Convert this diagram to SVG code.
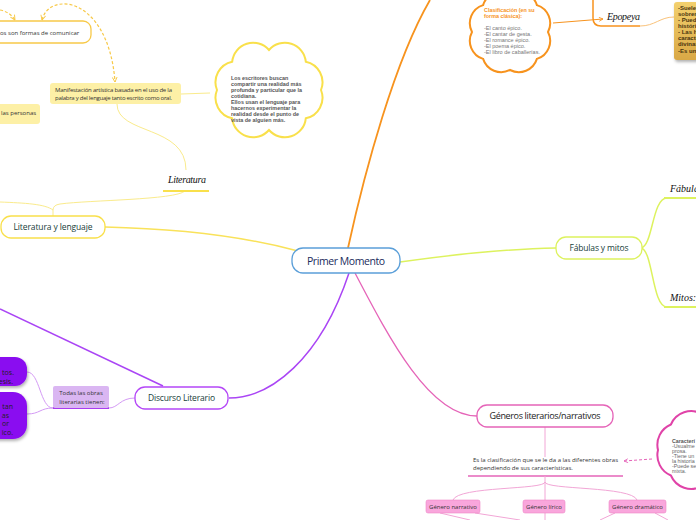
<svg xmlns="http://www.w3.org/2000/svg" width="696" height="520" viewBox="0 0 696 520">
<style>
.node{font-family:"Open Sans","Liberation Sans",sans-serif;}
.small{font-family:"Open Sans","Liberation Sans",sans-serif;font-size:6px;fill:#333;}
.cl{font-family:"Liberation Sans",Arial,sans-serif;font-weight:bold;font-size:5.4px;fill:#555;}
.hand{font-family:"Liberation Serif","DejaVu Serif",serif;font-style:italic;font-size:10px;fill:#111;}
.y{stroke:#f9e25a;fill:none;stroke-width:1.5;}
.yl{stroke:#faeb8c;fill:none;stroke-width:1;}
.o{stroke:#f7931e;fill:none;stroke-width:1.8;}
.g{stroke:#ddf25e;fill:none;stroke-width:1.5;}
.p{stroke:#aa45f5;fill:none;stroke-width:1.5;}
.pl{stroke:#d49af5;fill:none;stroke-width:1;}
.k{stroke:#e564b8;fill:none;stroke-width:1.3;}
.kl{stroke:#f2a6d6;fill:none;stroke-width:1;}
</style>
<defs>
<marker id="ay" viewBox="0 0 10 10" refX="9" refY="5" markerWidth="5" markerHeight="5" orient="auto-start-reverse"><path d="M1,1 L9,5 L1,9" fill="none" stroke="#f7c948" stroke-width="1.6"/></marker>
<marker id="ao" viewBox="0 0 10 10" refX="9" refY="5" markerWidth="5" markerHeight="5" orient="auto"><path d="M1,1 L9,5 L1,9" fill="none" stroke="#f7931e" stroke-width="1.6"/></marker>
<marker id="ak" viewBox="0 0 10 10" refX="9" refY="5" markerWidth="5" markerHeight="5" orient="auto"><path d="M1,1 L9,5 L1,9" fill="none" stroke="#e564b8" stroke-width="1.6"/></marker>
<linearGradient id="gold" x1="0" y1="0" x2="0" y2="1"><stop offset="0" stop-color="#f3d06e"/><stop offset="1" stop-color="#d9a845"/></linearGradient>
<filter id="sh" x="-30%" y="-30%" width="160%" height="160%"><feDropShadow dx="1" dy="2" stdDeviation="1.5" flood-color="#000" flood-opacity="0.3"/></filter>
</defs>

<g id="connectors">
  <path class="y" d="M105,227 C190,229 250,238 298,251"/>
  <path class="yl" d="M53,216 V210 Q53,205 60,204 C90,200 175,200 185,191"/>
  <path class="yl" d="M0,202 C25,203 45,204 53,210"/>
  <path class="yl" d="M117,104 C117,135 186,125 186,170"/>
  <path class="yl" d="M181,94 L210,93"/>
  <path d="M0,10 Q10,12 15,20" fill="none" stroke="#f7c948" stroke-width="1.2" stroke-dasharray="3,2" marker-end="url(#ay)"/>
  <path d="M42,20 C46,5 60,2 72,5 C95,12 112,40 115,82" fill="none" stroke="#f7c948" stroke-width="1.2" stroke-dasharray="3,2" marker-start="url(#ay)" marker-end="url(#ay)"/>
  <path class="o" d="M348,248 C365,170 395,60 430,0"/>
  <path d="M553,23 L603,19" fill="none" stroke="#f7931e" stroke-width="1" marker-end="url(#ao)"/>
  <path d="M593,0 V18 Q593,26 601,26 H640" fill="none" stroke="#f7931e" stroke-width="1.5"/>
  <path d="M640,26 C655,26 660,17 674,17" fill="none" stroke="#f9c27a" stroke-width="1"/>
  <path class="g" d="M400,262 C450,255 500,249 556,248"/>
  <path class="g" stroke-width="1" d="M641,248 C653,246 652,198 667,198"/>
  <path class="g" stroke-width="1" d="M641,248 C653,250 652,307 667,307"/>
  <path d="M664,198 H696 M664,307 H696" stroke="#ddf25e" stroke-width="2" fill="none"/>
  <path class="p" d="M349,273 C320,360 270,398 229,398"/>
  <path class="p" d="M0,309 L163,386"/>
  <path class="pl" d="M135,398 C120,398 118,408 109,408"/>
  <path class="pl" d="M53,408 C40,408 40,372 27,372"/>
  <path class="pl" d="M53,408 C40,408 40,414 27,414"/>
  <path d="M53,408 H109" stroke="#a93cf0" stroke-width="2" fill="none"/>
  <path class="k" d="M355,273 C390,340 430,416 477,416"/>
  <path class="kl" d="M545,427 V457"/>
  <path d="M468,476 H623" stroke="#e564b8" stroke-width="1.5" fill="none"/>
  <path class="kl" d="M545,476 V500"/>
  <path class="kl" d="M545,482 C545,490 458,486 453,500"/>
  <path class="kl" d="M545,482 C545,490 632,486 637,500"/>
  <path class="kl" d="M440,513 L470,520 M475,513 L520,520 M545,513 V520 M615,513 L600,520 M655,513 L668,520"/>
  <path d="M652,459 L624,461" fill="none" stroke="#e564b8" stroke-width="1" stroke-dasharray="3,2" marker-end="url(#ak)"/>
</g>

<g id="primer-momento">
  <rect x="292" y="248" width="108" height="25" rx="11" fill="#fff" stroke="#5b9fd9" stroke-width="1.3"/>
  <text class="node" x="346" y="264.5" font-size="10.5" fill="#1a2b5c" text-anchor="middle" textLength="78">Primer Momento</text>
</g>

<g id="literatura-y-lenguaje">
  <rect x="1" y="216" width="104" height="22" rx="10" fill="#fff" stroke="#f9e04b" stroke-width="1.3"/>
  <text class="node" x="53" y="230" font-size="8.5" fill="#17403a" text-anchor="middle" textLength="79">Literatura y lenguaje</text>
</g>

<g id="literatura">
  <text class="hand" x="168" y="183" textLength="38">Literatura</text>
  <path d="M163,191 H209" stroke="#f9e04b" stroke-width="2"/>
</g>

<g id="manifestacion">
  <rect x="50" y="83" width="131" height="21" rx="3" fill="#fdf0a6"/>
  <text class="small" x="55" y="92" textLength="117">Manifestación artística basada en el uso de la</text>
  <text class="small" x="55" y="100" textLength="117">palabra y del lenguaje tanto escrito como oral.</text>
</g>

<g id="cloud-escritores">
  <path d="M269,50 A21,21 0 0 1 305.8,61.7 A21,21 0 0 1 321,90 A21,21 0 0 1 305.8,118.3 A21,21 0 0 1 269,130 A21,21 0 0 1 232.2,118.3 A21,21 0 0 1 217,90 A21,21 0 0 1 232.2,61.7 A21,21 0 0 1 269,50 Z" fill="#fff" stroke="#f9e04b" stroke-width="2"/>
  <text class="cl" x="231" y="80">Los escritores buscan</text>
  <text class="cl" x="231" y="86">compartir una realidad más</text>
  <text class="cl" x="231" y="92">profunda y particular que la</text>
  <text class="cl" x="231" y="98">cotidiana.</text>
  <text class="cl" x="231" y="104">Ellos usan el lenguaje para</text>
  <text class="cl" x="231" y="110">hacernos experimentar la</text>
  <text class="cl" x="231" y="116">realidad desde el punto de</text>
  <text class="cl" x="231" y="122">vista de alguien más.</text>
</g>

<g id="comunicar">
  <rect x="-20" y="21" width="111" height="22" rx="8" fill="#fff" stroke="#f7c948" stroke-width="1.3"/>
  <text class="small" x="0" y="35" font-size="6.5">os son formas de comunicar</text>
</g>

<g id="personas">
  <rect x="-10" y="104" width="50" height="20" rx="3" fill="#fdf0a6"/>
  <text class="small" x="1" y="115">las personas</text>
</g>

<g id="cloud-clasificacion">
  <path d="M510,-6 A19,19 0 0 1 536.9,5.1 A19,19 0 0 1 548,32 A19,19 0 0 1 536.9,58.9 A19,19 0 0 1 510,70 A19,19 0 0 1 483.1,58.9 A19,19 0 0 1 472,32 A19,19 0 0 1 483.1,5.1 A19,19 0 0 1 510,-6 Z" fill="#fff" stroke="#f7931e" stroke-width="2"/>
  <text class="cl" x="484" y="12" font-size="5.5" style="fill:#f7931e">Clasificación (en su</text>
  <text class="cl" x="484" y="18" font-size="5.5" style="fill:#f7931e">forma clásica):</text>
  <g font-family="Liberation Sans,Arial,sans-serif" font-size="5.5" fill="#777">
    <text x="484" y="30">-El canto épico.</text>
    <text x="484" y="36">-El cantar de gesta.</text>
    <text x="484" y="42">-El romance épico.</text>
    <text x="484" y="48">-El poema épico.</text>
    <text x="484" y="54">-El libro de caballerías.</text>
  </g>
</g>

<g id="epopeya">
  <text class="hand" x="607" y="20" textLength="33">Epopeya</text>
</g>

<g id="epopeya-notas">
  <rect x="674" y="2" width="40" height="58" rx="3" fill="url(#gold)" filter="url(#sh)"/>
  <g font-family="Liberation Sans,Arial,sans-serif" font-size="6" font-weight="bold" fill="#4a3510">
    <text x="678" y="10">-Suele</text>
    <text x="678" y="16">sobren</text>
    <text x="678" y="22">- Pued</text>
    <text x="678" y="28">históric</text>
    <text x="678" y="34">- Las h</text>
    <text x="678" y="40">caracte</text>
    <text x="678" y="46">divinas</text>
    <text x="678" y="53">-Es un</text>
  </g>
</g>

<g id="fabulas-y-mitos">
  <rect x="556" y="237" width="86" height="22" rx="10" fill="#fff" stroke="#ddf25e" stroke-width="1.3"/>
  <text class="node" x="599" y="251" font-size="8.5" fill="#17403a" text-anchor="middle" textLength="59">Fábulas y mitos</text>
</g>
<g id="fabula"><text class="hand" x="670" y="192">Fábula</text></g>
<g id="mitos"><text class="hand" x="670" y="301">Mitos:</text></g>

<g id="discurso-literario">
  <rect x="135" y="387" width="93" height="22" rx="10" fill="#fff" stroke="#b447f7" stroke-width="1.3"/>
  <text class="node" x="181.5" y="401" font-size="8.5" fill="#17403a" text-anchor="middle" textLength="67">Discurso Literario</text>
</g>

<g id="todas-las-obras">
  <rect x="53" y="386" width="56" height="22" rx="2" fill="#dab6f2"/>
  <text class="small" x="81" y="395" text-anchor="middle">Todas las obras</text>
  <text class="small" x="82" y="404" text-anchor="middle">literarias tienen:</text>
</g>

<g id="purple-1">
  <rect x="-30" y="357" width="57" height="29" rx="12" fill="#8a10f0" filter="url(#sh)"/>
  <text class="node" x="14" y="375" font-size="7" fill="#222" text-anchor="end">tos.</text>
  <text class="node" x="13" y="384" font-size="7" fill="#222" text-anchor="end">esis.</text>
</g>
<g id="purple-2">
  <rect x="-30" y="392" width="57" height="47" rx="14" fill="#8a10f0" filter="url(#sh)"/>
  <text class="node" x="13" y="409" font-size="7" fill="#222" text-anchor="end">tan</text>
  <text class="node" x="9" y="418" font-size="7" fill="#222" text-anchor="end">as</text>
  <text class="node" x="9" y="426" font-size="7" fill="#222" text-anchor="end">or</text>
  <text class="node" x="13" y="435" font-size="7" fill="#222" text-anchor="end">ico.</text>
</g>

<g id="generos">
  <rect x="477" y="405" width="136" height="22" rx="10" fill="#fff" stroke="#e564b8" stroke-width="1.3"/>
  <text class="node" x="545" y="419" font-size="9" fill="#222" text-anchor="middle" textLength="111">Géneros literarios/narrativos</text>
</g>

<g id="clasificacion-texto">
  <text class="small" x="473" y="462" textLength="145">Es la clasificación que se le da a las diferentes obras</text>
  <text class="small" x="473" y="470">dependiendo de sus características.</text>
</g>

<g id="genero-narrativo">
  <rect x="426" y="500" width="54" height="13" rx="2" fill="#f9a6dc" stroke="#ee86c8" stroke-width="0.6"/>
  <text class="small" x="453" y="508.5" font-size="5.5" text-anchor="middle">Género narrativo</text>
</g>
<g id="genero-lirico">
  <rect x="523" y="500" width="42" height="13" rx="2" fill="#f9a6dc" stroke="#ee86c8" stroke-width="0.6"/>
  <text class="small" x="544" y="508.5" font-size="5.5" text-anchor="middle">Género lírico</text>
</g>
<g id="genero-dramatico">
  <rect x="609" y="500" width="57" height="13" rx="2" fill="#f9a6dc" stroke="#ee86c8" stroke-width="0.6"/>
  <text class="small" x="637.5" y="508.5" font-size="5.5" text-anchor="middle">Género dramático</text>
</g>

<g id="cloud-caracteristicas">
  <path d="M702,414 A22,22 0 0 1 733.1,424.5 A22,22 0 0 1 746,450 A22,22 0 0 1 733.1,475.5 A22,22 0 0 1 702,486 A22,22 0 0 1 670.9,475.5 A22,22 0 0 1 658,450 A22,22 0 0 1 670.9,424.5 A22,22 0 0 1 702,414 Z" fill="#fff" stroke="#e043a8" stroke-width="2"/>
  <g font-family="Liberation Sans,Arial,sans-serif" font-size="5.3" fill="#666">
    <text x="672" y="443" font-weight="bold" fill="#555">Caracterí</text>
    <text x="672" y="448">-Usualme</text>
    <text x="672" y="453">prosa.</text>
    <text x="672" y="458">-Tiene un</text>
    <text x="672" y="463">la historia</text>
    <text x="672" y="468">-Puede se</text>
    <text x="672" y="473">mixta.</text>
  </g>
</g>
</svg>
